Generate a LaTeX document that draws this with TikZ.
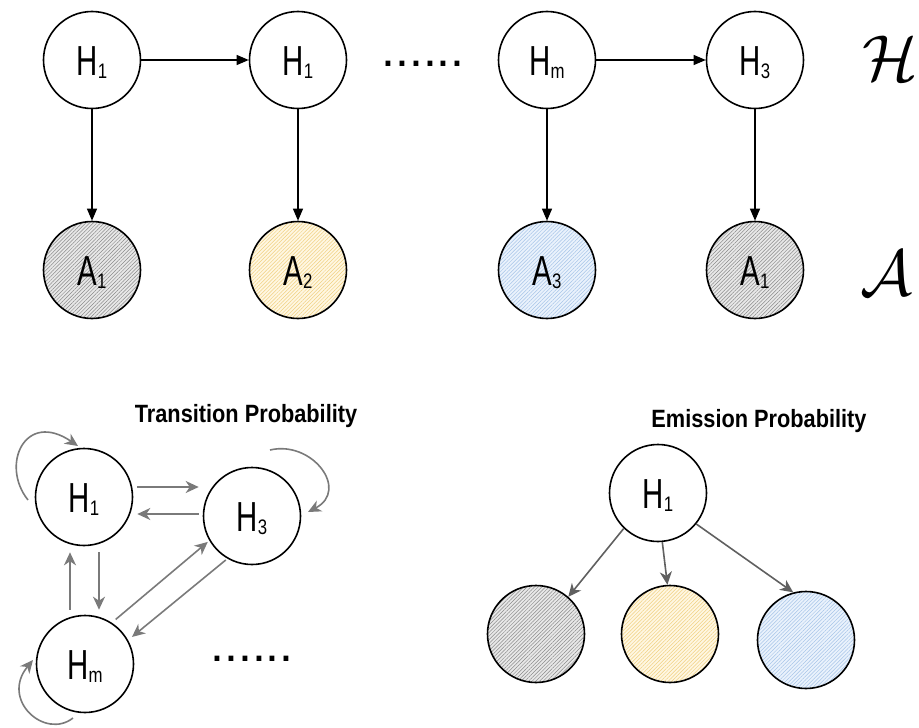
\documentclass[tikz,border=0pt]{standalone}
\usepackage{fontspec}
\setmainfont{Liberation Sans}
\newfontfamily\nodefont[FakeStretch=0.7]{Liberation Sans}
\newfontfamily\subfont[FakeStretch=0.8]{Liberation Sans}
\newfontfamily\titlefont[FakeStretch=0.87]{Liberation Sans}
\usetikzlibrary{arrows.meta,patterns.meta,calc}
\newcommand\subtxt[1]{\raisebox{-3pt}{\subfont\fontsize{21}{21}\selectfont #1}}
\definecolor{hatchgray}{HTML}{8A8A8A}
\definecolor{bggray}{HTML}{E8E8E8}
\definecolor{hatchyel}{HTML}{F0D080}
\definecolor{bgyel}{HTML}{FFF7E2}
\definecolor{hatchblue}{HTML}{A6C4E8}
\definecolor{bgblue}{HTML}{EAF2FC}
\definecolor{transgray}{HTML}{7A7A7A}
\definecolor{emitgray}{HTML}{606060}
\tikzset{
  base/.style={circle, draw=black, line width=1.6pt, minimum size=97pt, inner sep=0pt,
    text height=30pt, text depth=0pt, font=\nodefont\fontsize{42}{42}\selectfont},
  hnode/.style={base, fill=white},
  gnode/.style={base, preaction={fill=bggray},
    preaction={pattern={Lines[angle=45,distance=2.6pt,line width=0.5pt]}, pattern color=hatchgray}},
  ynode/.style={base, preaction={fill=bgyel},
    preaction={pattern={Lines[angle=45,distance=2.6pt,line width=0.5pt]}, pattern color=hatchyel}},
  bnode/.style={base, preaction={fill=bgblue},
    preaction={pattern={Lines[angle=45,distance=2.6pt,line width=0.5pt]}, pattern color=hatchblue}},
  toparrow/.style={draw=black, line width=1.2pt, -{Triangle[length=12pt,width=10pt]}},
  transarrow/.style={draw=transgray, line width=1.6pt, -{Stealth[length=13pt,width=12pt,inset=4pt]}},
  emitarrow/.style={draw=emitgray, line width=1.6pt, -{Stealth[length=13pt,width=12pt,inset=4pt]}},
  titletext/.style={font=\titlefont\bfseries\fontsize{25}{25}\selectfont, inner sep=0pt, anchor=base},
  dotstext/.style={font=\fontsize{50}{50}\selectfont, inner sep=0pt, anchor=base},
  caltext/.style={inner sep=0pt},
}
\begin{document}
\begin{tikzpicture}[x=1pt,y=1pt]
\useasboundingbox (0,0) rectangle (919,-728);

% ---- top chain ----
\node[hnode] (t1) at (92,-60) {H\subtxt{1}};
\node[hnode] (t2) at (298,-60) {H\subtxt{1}};
\node[hnode] (t3) at (547,-60) {H\subtxt{m}};
\node[hnode] (t4) at (755,-60) {H\subtxt{3}};
\node[gnode] (a1) at (92,-270) {A\subtxt{1}};
\node[ynode] (a2) at (298,-270) {A\subtxt{2}};
\node[bnode] (a3) at (547,-270) {A\subtxt{3}};
\node[gnode] (a4) at (755,-270) {A\subtxt{1}};
\node[dotstext] (dtop) at (423,-66) {......};
\node[caltext] (calH) at (890,-58) {\scalebox{6.5}{$\mathcal{H}$}};
\node[caltext] (calA) at (886,-273) {\scalebox{6.5}{$\mathcal{A}$}};

\draw[toparrow] (t1) -- (t2);
\draw[toparrow] (t3) -- (t4);
\draw[toparrow] (t1) -- (a1);
\draw[toparrow] (t2) -- (a2);
\draw[toparrow] (t3) -- (a3);
\draw[toparrow] (t4) -- (a4);

% ---- transition probability ----
\node[titletext] (ttitle) at (246,-422) {Transition Probability};
\node[hnode] (bh1) at (84,-497) {H\subtxt{1}};
\node[hnode] (bh3) at (252,-516) {H\subtxt{3}};
\node[hnode] (bhm) at (85,-664) {H\subtxt{m}};
\node[dotstext] (dbot) at (252,-661) {......};

\draw[transarrow, shorten <=4pt, shorten >=4pt] ([yshift=10pt]bh1.east) -- ([yshift=10pt]bh1.east -| bh3.west);
\draw[transarrow, shorten <=4pt, shorten >=4pt] ([yshift=-17pt]bh1.east -| bh3.west) -- ([yshift=-17pt]bh1.east);
\draw[transarrow, shorten <=6pt, shorten >=5pt] ([xshift=15pt]bh1.south) -- ([xshift=15pt]bh1.south |- bhm.north);
\draw[transarrow, shorten <=5pt, shorten >=6pt] ([xshift=-14pt]bh1.south |- bhm.north) -- ([xshift=-14pt]bh1.south);
\draw[transarrow, shorten <=5pt, shorten >=2pt] (bhm.57) -- (bh3.210);
\draw[transarrow, shorten <=2pt, shorten >=5pt] (bh3.240) -- (bhm.29);

\coordinate (l1s) at (28,-500);
\coordinate (l1e) at (78,-446);
\coordinate (l3s) at (270,-450);
\coordinate (l3e) at (308,-512);
\coordinate (lms) at (73,-718);
\coordinate (lme) at (33,-660);
\draw[transarrow] (l1s) .. controls (0,-465) and (25,-410) .. (l1e);
\draw[transarrow] (l3s) .. controls (312,-440) and (350,-490) .. (l3e);
\draw[transarrow] (lms) .. controls (45,-740) and (0,-700) .. (lme);

% ---- emission probability ----
\node[titletext] (etitle) at (759,-427) {Emission Probability};
\node[hnode] (eh) at (658,-493) {H\subtxt{1}};
\node[gnode] (eg) at (536,-634) {};
\node[ynode] (ey) at (670,-634) {};
\node[bnode] (eb) at (806,-640) {};
\draw[emitarrow] (eh.226) -- (eg.49);
\draw[emitarrow] (eh.275) -- (ey.93);
\draw[emitarrow] (eh.321) -- (eb.105);
\end{tikzpicture}
\end{document}
